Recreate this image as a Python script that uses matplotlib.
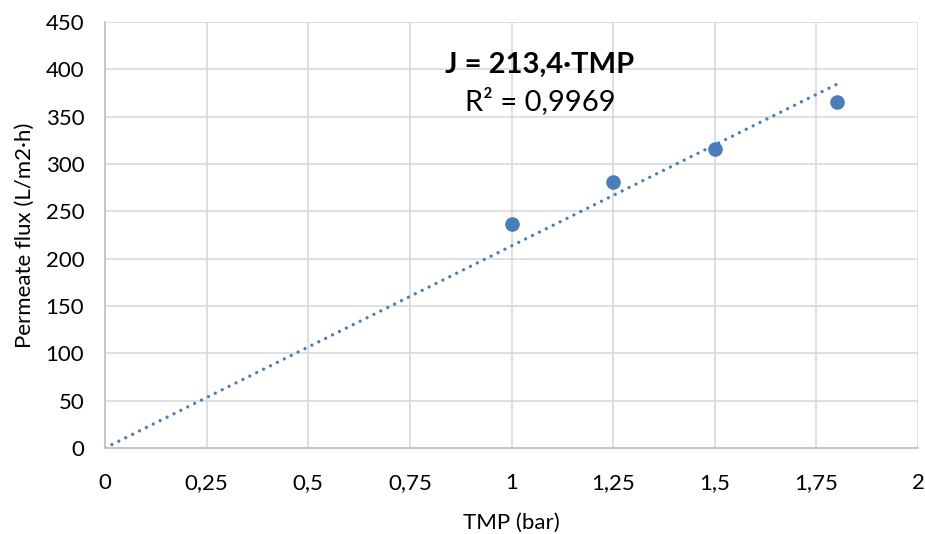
import numpy as np
import matplotlib
matplotlib.use("Agg")
import matplotlib.pyplot as plt

plt.rcParams['font.family'] = ['Lato', 'DejaVu Sans']

# data
tmp = [1.0, 1.25, 1.5, 1.8]
flux = [237, 281, 316, 365]
slope = 213.4
x_ticks = [0, 0.25, 0.5, 0.75, 1, 1.25, 1.5, 1.75, 2]
y_ticks = [0, 50, 100, 150, 200, 250, 300, 350, 400, 450]

def fmt(v):
    s = f"{v:g}"
    return s.replace(".", ",")

fig = plt.figure(figsize=(9.25, 5.34), dpi=100)
ax = fig.add_axes([0.1135, 0.161, 0.879, 0.798])

blue = "#4a7ebb"
fit_x = np.array([0, max(tmp)])
ax.plot(fit_x, slope * fit_x, linestyle=(0, (0.01, 2.3)), color=blue,
        linewidth=2.4, dash_capstyle='round', zorder=2)
ax.plot(tmp, flux, 'o', color=blue, markersize=9.5, zorder=3)

ax.set_xlim(0, 2)
ax.set_ylim(0, 450)
ax.set_xticks(x_ticks)
ax.set_xticklabels([fmt(v) for v in x_ticks])
ax.set_yticks(y_ticks)
ax.set_yticklabels([fmt(v) for v in y_ticks])
ax.tick_params(length=0, labelsize=16, colors="#000000")
ax.tick_params(axis='x', pad=18)
ax.tick_params(axis='y', pad=15)
ax.grid(True, color="#d9d9d9", linewidth=1.2)
ax.set_axisbelow(True)
for s in ["top", "right"]:
    ax.spines[s].set_visible(False)
for s in ["left", "bottom"]:
    ax.spines[s].set_color("#bfbfbf")
    ax.spines[s].set_linewidth(1.2)

ax.set_xlabel("TMP (bar)", fontsize=16, labelpad=14)
ax.set_ylabel("Permeate flux (L/m2·h)", fontsize=16, labelpad=8)

ax.text(1.07, 405, "J = 213,4·TMP", fontsize=21, fontweight='bold',
        ha='center', va='center')
ax.text(1.07, 366, "R² = 0,9969", fontsize=21, ha='center', va='center')

fig.savefig("out.png", dpi=100)
